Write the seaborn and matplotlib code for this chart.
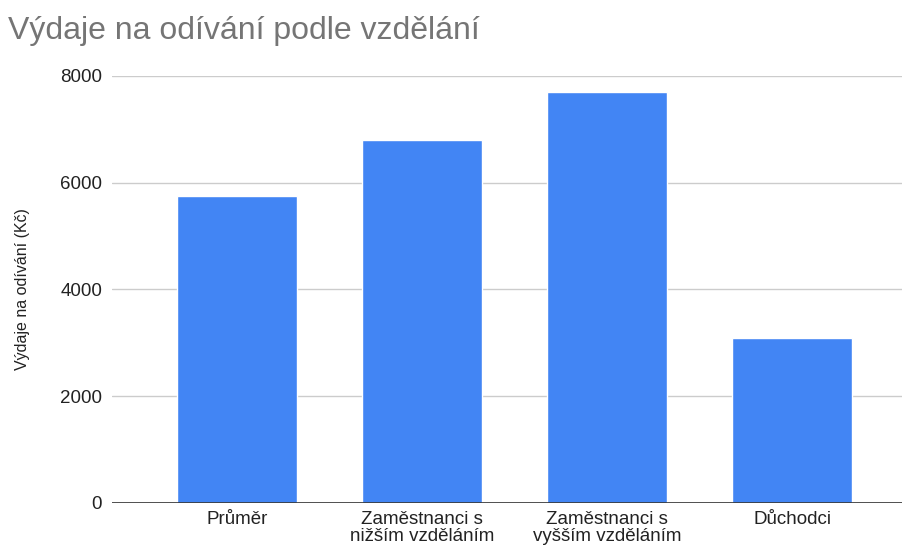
import matplotlib
matplotlib.use('Agg')
import matplotlib.pyplot as plt
import seaborn as sns
import pandas as pd

categories = ['Průměr', 'Zaměstnanci s\nnižším vzděláním',
              'Zaměstnanci s\nvyšším vzděláním', 'Důchodci']
values = [5755, 6800, 7705, 3080]
yticks = [0, 2000, 4000, 6000, 8000]

df = pd.DataFrame({'skupina': categories, 'vydaje': values})

sns.set_theme(style='white')
plt.rcParams['font.family'] = ['Liberation Sans', 'DejaVu Sans']

fig = plt.figure(figsize=(9.03, 5.49), dpi=100)
ax = fig.add_axes([0.124, 0.084, 0.876, 0.778])

sns.barplot(data=df, x='skupina', y='vydaje', color='#4285F4', saturation=1,
            width=0.65, ax=ax, zorder=3)

ax.set_ylim(0, 8000)
ax.set_xlim(-0.676, 3.6)
ax.set_yticks(yticks)
ax.set_yticklabels([str(t) for t in yticks], fontsize=13.5, color='#222222')
ax.tick_params(axis='x', labelsize=13.5, labelcolor='#222222', length=0, pad=6)
ax.tick_params(axis='y', length=0, pad=7)
for lbl in ax.get_xticklabels():
    lbl.set_linespacing(1.0)

ax.yaxis.grid(True, color='#cccccc', linewidth=1, zorder=0)
ax.axhline(0, color='#333333', linewidth=1.2, zorder=4)
for s in ax.spines.values():
    s.set_visible(False)

ax.set_xlabel('')
ax.set_ylabel('Výdaje na odívání (Kč)', fontsize=11.5, color='#222222')
ax.yaxis.set_label_coords(-0.104, 0.5)

fig.text(0.009, 0.943, 'Výdaje na odívání podle vzdělání', fontsize=23,
         color='#757575', ha='left', va='center')

fig.savefig('out.png', dpi=100)
plt.close(fig)
